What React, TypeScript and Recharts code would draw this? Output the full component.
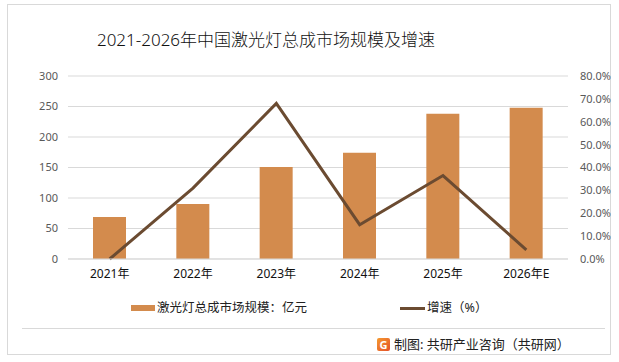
import { Bar, CartesianGrid, ComposedChart, Legend, Line, XAxis, YAxis } from "recharts";

const years = ["2021年", "2022年", "2023年", "2024年", "2025年", "2026年E"];
const marketSize = [69, 90, 151, 174, 238, 248];
const growthRate = [0, 31, 68, 15, 36.5, 4];
const sizeTicks = [0, 50, 100, 150, 200, 250, 300];
const rateTicks = [0, 10, 20, 30, 40, 50, 60, 70, 80];

const BAR_COLOR = "#d38b4d";
const LINE_COLOR = "#6b4b31";
const FONT = '"Noto Sans", "Noto Sans CJK SC", sans-serif';

const data = years.map((year, i) => ({ year, size: marketSize[i], rate: growthRate[i] }));

function ChartLegend() {
  return (
    <div style={{ position: "relative", height: 20, fontFamily: FONT, fontSize: 12.5, color: "#222" }}>
      <div style={{ position: "absolute", left: 131, top: 6, width: 24, height: 6, background: BAR_COLOR }} />
      <span style={{ position: "absolute", left: 157, top: 0, lineHeight: "18px" }}>激光灯总成市场规模：亿元</span>
      <div style={{ position: "absolute", left: 400, top: 8, width: 25, height: 3, background: LINE_COLOR }} />
      <span style={{ position: "absolute", left: 427, top: 0, lineHeight: "18px" }}>增速（%）</span>
    </div>
  );
}

export default function App() {
  return (
    <div style={{ position: "absolute", left: 0, top: 0, width: 619, height: 362, background: "#fff", overflow: "hidden" }}>
      <div
        style={{
          position: "absolute",
          left: 7,
          top: 4,
          width: 604,
          height: 351,
          border: "1px solid #d9d9d9",
          boxSizing: "border-box"
        }}
      />
      <div
        style={{
          position: "absolute",
          left: 0,
          width: 532,
          top: 28,
          textAlign: "center",
          fontFamily: FONT,
          fontSize: 17,
          fontWeight: 300,
          lineHeight: "24px",
          color: "#111"
        }}
      >
        2021-2026年中国激光灯总成市场规模及增速
      </div>
      <div style={{ position: "absolute", left: 0, top: 0 }}>
        <ComposedChart width={619} height={362} data={data} margin={{ top: 76, right: 0, bottom: 53, left: 0 }}>
          <CartesianGrid vertical={false} stroke="#d9d9d9" yAxisId="left" />
          <XAxis
            dataKey="year"
            tickLine={false}
            tickSize={0}
            tickMargin={10}
            axisLine={{ stroke: "#d9d9d9" }}
            height={30}
            tick={{ fill: "#111", fontSize: 12, fontFamily: FONT }}
          />
          <YAxis
            yAxisId="left"
            width={68}
            domain={[0, 300]}
            ticks={sizeTicks}
            axisLine={false}
            tickLine={false}
            tickSize={0}
            tickMargin={10}
            tick={{ fill: "#595959", fontSize: 11, fontFamily: FONT }}
          />
          <YAxis
            yAxisId="right"
            orientation="right"
            width={51}
            domain={[0, 80]}
            ticks={rateTicks}
            axisLine={false}
            tickLine={false}
            tickSize={0}
            tickMargin={12}
            tickFormatter={(v: number) => `${v.toFixed(1)}%`}
            tick={{ fill: "#595959", fontSize: 11, fontFamily: FONT }}
          />
          <Legend
            verticalAlign="bottom"
            content={() => <ChartLegend />}
            wrapperStyle={{ position: "absolute", left: 0, top: 299, width: 619 }}
          />
          <Bar yAxisId="left" dataKey="size" name="激光灯总成市场规模：亿元" fill={BAR_COLOR} barSize={33} isAnimationActive={false} />
          <Line
            yAxisId="right"
            type="linear"
            dataKey="rate"
            name="增速（%）"
            stroke={LINE_COLOR}
            strokeWidth={3}
            dot={false}
            activeDot={false}
            isAnimationActive={false}
          />
        </ComposedChart>
      </div>
      <div style={{ position: "absolute", left: 22, top: 328, width: 583, height: 1, background: "#d9d9d9" }} />
      <div
        style={{
          position: "absolute",
          left: 377,
          top: 338,
          width: 13,
          height: 13,
          borderRadius: 2,
          background: "linear-gradient(135deg, #f59a2f, #e4502a)",
          color: "#fff",
          fontFamily: FONT,
          fontSize: 11,
          fontWeight: 700,
          lineHeight: "13px",
          textAlign: "center"
        }}
      >
        G
      </div>
      <div
        style={{
          position: "absolute",
          left: 394,
          top: 335,
          fontFamily: FONT,
          fontSize: 13,
          lineHeight: "18px",
          color: "#222"
        }}
      >
        制图: 共研产业咨询（共研网）
      </div>
    </div>
  );
}
